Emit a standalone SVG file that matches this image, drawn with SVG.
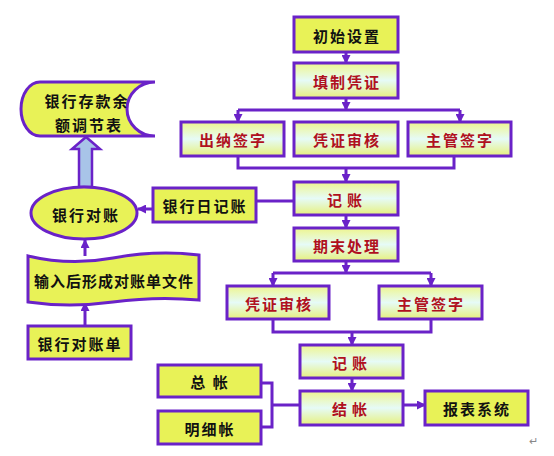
<svg xmlns="http://www.w3.org/2000/svg" width="554" height="456" viewBox="0 0 554 456">
<defs>
<linearGradient id="g" x1="0" y1="0" x2="0" y2="1">
<stop offset="0" stop-color="#eef58e"/>
<stop offset="0.5" stop-color="#e6fbf7"/>
<stop offset="1" stop-color="#e6f07c"/>
</linearGradient>
<marker id="ah" markerUnits="userSpaceOnUse" markerWidth="9" markerHeight="9" refX="8" refY="4.5" orient="auto">
<path d="M0,0 L9,4.5 L0,9 Z" fill="#6a22c8"/>
</marker>
<style>
.y{fill:#e8f257;stroke:#6a22c8;stroke-width:3}
.gr{fill:url(#g);stroke:#6a22c8;stroke-width:3}
.c{fill:none;stroke:#6a22c8;stroke-width:3}
.a{fill:none;stroke:#6a22c8;stroke-width:3;marker-end:url(#ah)}
text{font-family:"Noto Sans CJK SC","Noto Sans CJK TC",sans-serif;font-size:15px;font-weight:bold;text-anchor:middle;dominant-baseline:central;letter-spacing:2px}
.k{fill:#111}
.r{fill:#b01020}
</style>
</defs>
<rect width="554" height="456" fill="#fff"/>
<g id="connectors">
<path class="a" d="M346,52 V63"/>
<path class="a" d="M346,98 V110"/>
<path class="c" d="M238,110 H460"/>
<path class="a" d="M238,110 V122"/>
<path class="a" d="M460,110 V122"/>
<path class="c" d="M238,156 V168 H454 V155"/>
<path class="a" d="M346,168 V182"/>
<path class="c" d="M294,201 H256"/>
<path class="a" d="M346,215 V228"/>
<path class="a" d="M346,261 V273"/>
<path class="c" d="M273,273 H431"/>
<path class="a" d="M273,273 V286"/>
<path class="a" d="M431,273 V286"/>
<path class="c" d="M273,319 V332 H431 V319"/>
<path class="a" d="M352,332 V345"/>
<path class="a" d="M352,378 V391"/>
<path class="a" d="M403,405 H425"/>
<path class="c" d="M261,383 H272 V427 H261 M272,405 H300"/>
<path class="a" d="M153,209 H138"/>
<path class="a" d="M85,256 V240"/>
<path class="a" d="M85,326 V303"/>
<polygon points="79,187 79,149 72,149 86,137 100,149 92,149 92,187" fill="#a8c4e8" stroke="#6a22c8" stroke-width="2.5" stroke-linejoin="miter"/>
</g>
<g id="n-init"><rect class="y" x="294" y="17" width="104" height="35"/><text class="k" x="347" y="35">初始设置</text></g>
<g id="n-fill"><rect class="gr" x="294" y="63" width="104" height="35"/><text class="r" x="347" y="81">填制凭证</text></g>
<g id="n-cashier"><rect class="gr" x="181" y="122" width="103" height="34"/><text class="r" x="233" y="139">出纳签字</text></g>
<g id="n-audit1"><rect class="gr" x="294" y="122" width="104" height="34"/><text class="r" x="347" y="139">凭证审核</text></g>
<g id="n-mgr1"><rect class="gr" x="408" y="122" width="103" height="34"/><text class="r" x="460" y="139">主管签字</text></g>
<g id="n-post1"><rect class="gr" x="294" y="182" width="104" height="33"/><text class="r" x="347" y="199" style="letter-spacing:5px">记账</text></g>
<g id="n-bankjournal"><rect class="y" x="153" y="188" width="103" height="34"/><text class="k" x="205" y="205">银行日记账</text></g>
<g id="n-period"><rect class="gr" x="294" y="228" width="104" height="33"/><text class="r" x="347" y="245">期末处理</text></g>
<g id="n-audit2"><rect class="gr" x="227" y="286" width="102" height="33"/><text class="r" x="279" y="303">凭证审核</text></g>
<g id="n-mgr2"><rect class="gr" x="379" y="286" width="103" height="33"/><text class="r" x="431" y="303">主管签字</text></g>
<g id="n-post2"><rect class="gr" x="300" y="345" width="103" height="33"/><text class="r" x="352" y="362" style="letter-spacing:5px">记账</text></g>
<g id="n-close"><rect class="gr" x="300" y="391" width="103" height="34"/><text class="r" x="352" y="408" style="letter-spacing:5px">结帐</text></g>
<g id="n-report"><rect class="y" x="425" y="391" width="103" height="34"/><text class="k" x="477" y="408">报表系统</text></g>
<g id="n-general"><rect class="y" x="158" y="365" width="103" height="32"/><text class="k" x="210" y="381" xml:space="preserve">总 帐</text></g>
<g id="n-detail"><rect class="y" x="158" y="411" width="103" height="33"/><text class="k" x="210" y="428">明细帐</text></g>
<g id="n-reconcile-table"><path class="y" d="M40,82 H155 A28,27 0 0 0 155,136 H40 A19,27 0 0 1 40,82 Z"/><text class="k" x="87" y="100">银行存款余</text><text class="k" x="89" y="124">额调节表</text></g>
<g id="n-reconcile"><ellipse class="y" cx="84" cy="213" rx="53" ry="26"/><text class="k" x="86" y="214">银行对账</text></g>
<g id="n-file"><path class="y" d="M28,256 Q70,266 113,258 T199,255 V300 Q157,296 113,302 T28,302 Z"/><text class="k" x="114" y="280" style="letter-spacing:1px">输入后形成对账单文件</text></g>
<g id="n-statement"><rect class="y" x="28" y="326" width="103" height="33"/><text class="k" x="80" y="343">银行对账单</text></g>
<text x="533" y="440" style="font-size:11px;font-weight:normal;fill:#888;letter-spacing:0">↵</text>
</svg>
